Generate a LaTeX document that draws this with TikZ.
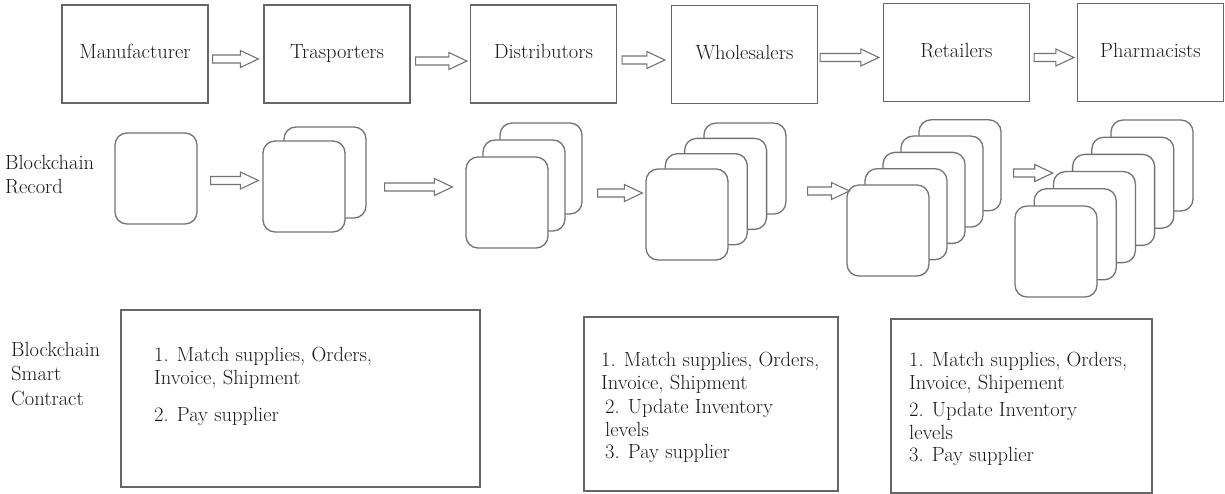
\documentclass[tikz,border=0pt]{standalone}
\usetikzlibrary{calc}

\tikzset{
	stage/.style={draw=black!60, line width=1.3pt, minimum width=146, minimum height=98, inner sep=0pt,
		text height=14pt, text depth=4pt, font=\fontsize{20.5}{22.5}\selectfont, text=black!90},
	card/.style={draw=black!55, line width=1.3pt, fill=white, rounded corners=12pt,
		minimum width=82, minimum height=91, inner sep=0pt},
	contract/.style={draw=black!60, line width=1.3pt, inner sep=0pt},
	txt/.style={align=left, anchor=north west, inner sep=0pt,
		font=\fontsize{20.5}{22.5}\selectfont, text=black!90},
	% hollow block arrow, kept level with its start point
	fat/.style={draw=black!55, line width=1.1pt, fill=white, to path={
		let \p1=(\tikztostart), \p2=(\tikztotarget) in
		(\x1,\y1+4pt) -- (\x2-18pt,\y1+4pt) -- (\x2-18pt,\y1+8.5pt) -- (\x2,\y1)
		-- (\x2-18pt,\y1-8.5pt) -- (\x2-18pt,\y1-4pt) -- (\x1,\y1-4pt) -- cycle}},
}
% record stack: name(left,top)(dx,dy){back cards}
\def\recstack#1(#2,#3)(#4,#5)#6{%
	\foreach \i in {#6,...,1}{\node[card] (#1-\i) at (#2+41+\i*#4, #3+45.5-\i*#5) {};}
	\node[card] (#1) at (#2+41, #3+45.5) {};
}

\begin{document}
\begin{tikzpicture}[x=1pt, y=-1pt]
		%%%%% START %%%%%
		\useasboundingbox (0,0) rectangle (1225,494);
		
		\node[stage] (man) at (135,54) {Manufacturer};
		\node[stage] (tra) at (337,54) {Trasporters};
		\node[stage] (dis) at (543.5,54) {Distributors};
		\node[stage] (who) at (744.5,54.5) {Wholesalers};
		\node[stage] (ret) at (956.5,52.5) {Retailers};
		\node[stage] (pha) at (1150.5,52.5) {Pharmacists};
		
		\draw[fat] ([shift={(4,5)}]man.east) to ([xshift=-5]tra.west);
		\draw[fat] ([shift={(5,7)}]tra.east) to ([xshift=-3]dis.west);
		\draw[fat] ([shift={(5,6)}]dis.east) to ([xshift=-6]who.west);
		\draw[fat] ([shift={(2,3)}]who.east) to ([xshift=-4]ret.west);
		\draw[fat] ([shift={(4,5)}]ret.east) to ([xshift=-3]pha.west);
		
		\node[txt, font=\fontsize{20.5}{24}\selectfont] (rec) at (5,155) {Blockchain\\Record};
		
		\node[card] (rec1) at (156,178.5) {};
		\recstack rec2(263,141)(21,14){1}
		\recstack rec3(466,157)(17,17){2}
		\recstack rec4(646,169)(19.3,15.3){3}
		\recstack rec5(847,185)(18,16.3){4}
		\recstack rec6(1015,206)(19.2,17.2){5}
		
		\draw[fat] ([shift={(13,2)}]rec1.east) to ([xshift=-4]rec2.west);
		\draw[fat] ([shift={(18,14.5)}]rec2-1.east) to ([xshift=-13]rec3.west);
		\draw[fat] ([shift={(15,24.5)}]rec3-2.east) to ([xshift=-3]rec4.west);
		\draw[fat] ([shift={(21,22.4)}]rec4-3.east) to ([xshift=3]rec5.west);
		\draw[fat] ([shift={(12,7.7)}]rec5-4.east) to (rec6-2.west);
		
		\node[txt, font=\fontsize{20.5}{24.5}\selectfont] (sc) at (11,342) {Blockchain\\Smart\\Contract};
		
		\node[contract, minimum width=359, minimum height=177] (sc1) at (300.5,398.5) {};
		\node[contract, minimum width=254, minimum height=174] (sc2) at (711,404) {};
		\node[contract, minimum width=261, minimum height=174] (sc3) at (1021.5,406) {};
		
		\node[txt] (sc1t) at (154,347) {1. Match supplies, Orders,\\Invoice, Shipment\\[15pt]2. Pay supplier};
		\node[txt] (sc2t) at (601,352) {1. Match supplies, Orders,\\Invoice, Shipment\\[2pt]
			\hspace*{4pt}2. Update Inventory\\\hspace*{4pt}levels\\\hspace*{4pt}3. Pay supplier};
		\node[txt] (sc3t) at (909,352) {1. Match supplies, Orders,\\Invoice, Shipement\\[5pt]
			2. Update Inventory\\levels\\3. Pay supplier};
		
		%%%%% END %%%%%
	\end{tikzpicture}
\end{document}
